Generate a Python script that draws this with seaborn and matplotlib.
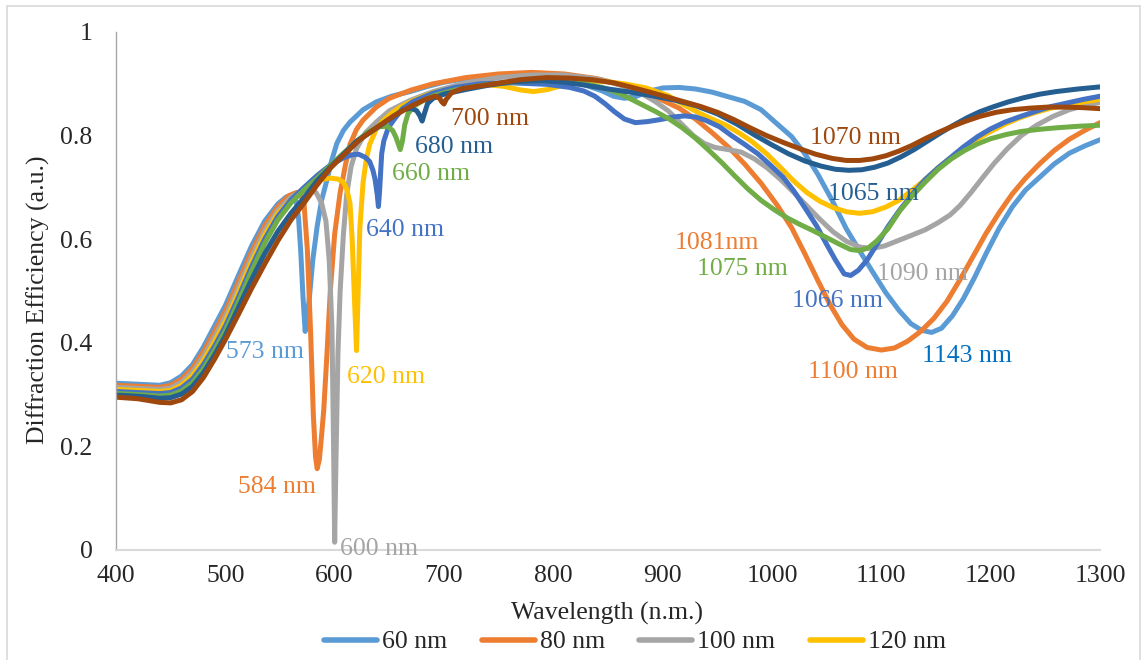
import matplotlib
matplotlib.use("Agg")
import matplotlib.pyplot as plt
from matplotlib.lines import Line2D
import pandas as pd
import seaborn as sns

# ---- spectra: wavelength (nm) and diffraction efficiency for each grating depth ----
wl_60 = [400, 420, 440, 450, 460, 470, 480, 490, 500, 512, 524, 536, 548, 556, 562, 565,
         567, 569, 571, 573, 575, 577, 580, 584, 588, 593, 597, 602, 608, 614, 626, 638,
         652, 669, 685, 700, 720, 740, 760, 780, 800, 815, 830, 845, 855, 865, 875, 888,
         900, 915, 930, 945, 960, 975, 990, 1005, 1018, 1030, 1042, 1055, 1068, 1080, 1092,
         1104, 1116, 1127, 1137, 1146, 1155, 1165, 1175, 1185, 1196, 1208, 1220, 1232,
         1245, 1258, 1272, 1286, 1300]
de_60 = [0.322, 0.320, 0.318, 0.323, 0.336, 0.358, 0.392, 0.432, 0.472, 0.530, 0.587, 0.635,
         0.668, 0.682, 0.684, 0.672, 0.640, 0.575, 0.490, 0.422, 0.450, 0.490, 0.560, 0.625,
         0.675, 0.715, 0.750, 0.785, 0.810, 0.826, 0.850, 0.865, 0.876, 0.885, 0.895, 0.903,
         0.910, 0.915, 0.918, 0.920, 0.918, 0.913, 0.897, 0.886, 0.876, 0.872, 0.875, 0.886,
         0.892, 0.893, 0.890, 0.884, 0.875, 0.866, 0.850, 0.822, 0.798, 0.765, 0.725, 0.675,
         0.620, 0.578, 0.537, 0.497, 0.463, 0.437, 0.424, 0.420, 0.428, 0.452, 0.485, 0.525,
         0.573, 0.622, 0.663, 0.695, 0.720, 0.745, 0.766, 0.780, 0.792]

wl_80 = [400, 420, 440, 450, 460, 470, 480, 490, 500, 512, 524, 536, 548, 558, 565, 569,
         572, 575, 578, 580.5, 582.5, 584, 586, 588, 590, 593, 596, 600, 605, 610, 614,
         620, 626, 638, 650, 670, 690, 720, 750, 780, 810, 840, 860, 880, 900, 915, 930,
         945, 960, 975, 990, 1005, 1018, 1030, 1042, 1053, 1064, 1075, 1087, 1100, 1112,
         1124, 1136, 1148, 1160, 1172, 1184, 1196, 1208, 1220, 1232, 1245, 1258, 1272,
         1286, 1300]
de_80 = [0.318, 0.316, 0.314, 0.318, 0.330, 0.351, 0.383, 0.421, 0.461, 0.518, 0.576, 0.626,
         0.663, 0.684, 0.690, 0.686, 0.668, 0.580, 0.420, 0.260, 0.180, 0.157, 0.175, 0.220,
         0.270, 0.380, 0.500, 0.610, 0.690, 0.745, 0.783, 0.812, 0.830, 0.855, 0.872, 0.888,
         0.900, 0.912, 0.919, 0.922, 0.919, 0.910, 0.899, 0.885, 0.868, 0.853, 0.832, 0.806,
         0.778, 0.745, 0.708, 0.665, 0.622, 0.572, 0.520, 0.474, 0.435, 0.407, 0.391, 0.386,
         0.390, 0.403, 0.422, 0.447, 0.480, 0.522, 0.567, 0.612, 0.652, 0.688, 0.718, 0.746,
         0.771, 0.793, 0.810, 0.825]

wl_100 = [400, 420, 440, 450, 460, 470, 480, 490, 500, 512, 524, 536, 548, 560, 570, 577,
          583, 588, 592, 595, 597.5, 599, 600, 601, 603, 605, 608, 611, 615, 620, 628, 638,
          650, 669, 690, 720, 750, 780, 810, 830, 845, 865, 880, 893, 905, 917, 928, 938,
          948, 960, 972, 984, 996, 1008, 1020, 1032, 1044, 1056, 1068, 1080, 1091, 1103,
          1115, 1127, 1140, 1152, 1163, 1172, 1182, 1192, 1203, 1215, 1228, 1242, 1257,
          1272, 1286, 1300]
de_100 = [0.314, 0.312, 0.310, 0.313, 0.324, 0.344, 0.374, 0.411, 0.451, 0.507, 0.566, 0.617,
          0.656, 0.681, 0.694, 0.698, 0.690, 0.670, 0.635, 0.560, 0.430, 0.200, 0.015, 0.150,
          0.380, 0.500, 0.610, 0.687, 0.740, 0.775, 0.805, 0.826, 0.848, 0.868, 0.885, 0.902,
          0.912, 0.917, 0.917, 0.912, 0.907, 0.895, 0.882, 0.866, 0.848, 0.823, 0.800, 0.785,
          0.777, 0.773, 0.768, 0.755, 0.737, 0.715, 0.690, 0.664, 0.638, 0.614, 0.596, 0.585,
          0.582, 0.587, 0.597, 0.607, 0.618, 0.632, 0.647, 0.665, 0.690, 0.717, 0.746, 0.774,
          0.800, 0.820, 0.837, 0.850, 0.858, 0.864]

wl_120 = [400, 420, 440, 450, 460, 470, 480, 490, 500, 512, 524, 536, 548, 560, 571, 580,
          588, 596, 603, 608, 611, 614, 616, 618, 620, 621.5, 623, 626, 629, 632, 638, 644,
          652, 660, 672, 690, 710, 735, 755, 770, 782, 795, 810, 825, 845, 865, 885, 905,
          919, 932, 945, 958, 970, 982, 995, 1008, 1020, 1032, 1044, 1056, 1068, 1080, 1092,
          1104, 1116, 1128, 1140, 1152, 1164, 1176, 1188, 1200, 1213, 1226, 1240, 1255,
          1270, 1285, 1300]
de_120 = [0.310, 0.308, 0.306, 0.308, 0.318, 0.337, 0.366, 0.402, 0.441, 0.497, 0.556, 0.608,
          0.650, 0.676, 0.695, 0.708, 0.715, 0.718, 0.716, 0.710, 0.697, 0.670, 0.600, 0.490,
          0.385, 0.500, 0.620, 0.710, 0.755, 0.783, 0.812, 0.828, 0.843, 0.855, 0.868, 0.883,
          0.892, 0.899, 0.895, 0.888, 0.885, 0.889, 0.898, 0.905, 0.905, 0.900, 0.892, 0.877,
          0.860, 0.845, 0.832, 0.820, 0.805, 0.788, 0.765, 0.738, 0.712, 0.690, 0.673, 0.661,
          0.653, 0.650, 0.653, 0.662, 0.675, 0.694, 0.715, 0.738, 0.758, 0.777, 0.794, 0.808,
          0.822, 0.834, 0.844, 0.853, 0.860, 0.865, 0.870]

wl_140 = [400, 420, 440, 450, 460, 470, 480, 490, 500, 512, 524, 536, 548, 560, 572, 584,
          596, 608, 616, 622, 628, 632, 635, 637, 639, 640, 641, 643, 645, 649, 654, 662,
          672, 690, 710, 733, 760, 794, 815, 828, 838, 847, 856, 865, 875, 886, 898, 910,
          920, 930, 940, 952, 963, 975, 987, 998, 1010, 1020, 1030, 1041, 1050, 1058, 1066,
          1072, 1079, 1087, 1096, 1106, 1117, 1128, 1140, 1152, 1163, 1175, 1188, 1200,
          1213, 1226, 1240, 1255, 1270, 1285, 1300]
de_140 = [0.306, 0.304, 0.302, 0.304, 0.313, 0.330, 0.358, 0.393, 0.432, 0.488, 0.547, 0.600,
          0.644, 0.676, 0.700, 0.723, 0.743, 0.757, 0.763, 0.764, 0.758, 0.750, 0.733, 0.715,
          0.685, 0.663, 0.690, 0.765, 0.790, 0.815, 0.830, 0.852, 0.866, 0.882, 0.893, 0.900,
          0.902, 0.899, 0.893, 0.886, 0.876, 0.862, 0.846, 0.832, 0.825, 0.827, 0.831, 0.836,
          0.838, 0.836, 0.829, 0.817, 0.800, 0.783, 0.765, 0.744, 0.720, 0.693, 0.661, 0.625,
          0.590, 0.560, 0.533, 0.530, 0.540, 0.560, 0.590, 0.624, 0.657, 0.686, 0.715, 0.738,
          0.757, 0.778, 0.798, 0.813, 0.826, 0.836, 0.846, 0.856, 0.863, 0.870, 0.876]

wl_160 = [400, 420, 440, 450, 460, 470, 480, 490, 500, 512, 524, 536, 548, 560, 572, 584,
          596, 608, 620, 630, 640, 648, 653, 656, 658, 660, 662, 664, 667, 672, 681, 692,
          710, 735, 760, 785, 805, 825, 845, 862, 878, 893, 906, 918, 930, 942, 954, 966,
          978, 990, 1002, 1014, 1026, 1038, 1050, 1062, 1072, 1080, 1088, 1096, 1106, 1117,
          1128, 1140, 1152, 1164, 1176, 1188, 1200, 1214, 1228, 1244, 1260, 1280, 1300]
de_160 = [0.302, 0.300, 0.297, 0.299, 0.307, 0.323, 0.350, 0.385, 0.423, 0.479, 0.538, 0.592,
          0.637, 0.670, 0.695, 0.718, 0.742, 0.766, 0.789, 0.806, 0.817, 0.818, 0.810, 0.797,
          0.785, 0.773, 0.790, 0.820, 0.842, 0.856, 0.868, 0.878, 0.888, 0.897, 0.903, 0.906,
          0.906, 0.902, 0.893, 0.880, 0.863, 0.847, 0.832, 0.815, 0.795, 0.772, 0.748, 0.722,
          0.697, 0.675, 0.657, 0.641, 0.628, 0.616, 0.603, 0.590, 0.580, 0.578, 0.583, 0.597,
          0.620, 0.655, 0.683, 0.710, 0.735, 0.755, 0.771, 0.784, 0.794, 0.802, 0.808, 0.812,
          0.815, 0.818, 0.820]

wl_180 = [400, 420, 440, 450, 460, 470, 480, 490, 500, 512, 524, 536, 548, 560, 572, 584,
          596, 608, 620, 638, 653, 663, 670, 675, 678, 680, 682, 685, 690, 700, 720, 740,
          763, 790, 810, 830, 850, 870, 890, 910, 930, 950, 968, 985, 1000, 1015, 1030, 1045,
          1058, 1070, 1082, 1094, 1106, 1118, 1130, 1142, 1154, 1166, 1178, 1190, 1203, 1216,
          1230, 1245, 1260, 1280, 1300]
de_180 = [0.299, 0.297, 0.293, 0.294, 0.301, 0.316, 0.342, 0.376, 0.414, 0.468, 0.522, 0.572,
          0.615, 0.650, 0.680, 0.713, 0.739, 0.764, 0.789, 0.814, 0.836, 0.850, 0.853, 0.848,
          0.838, 0.828, 0.842, 0.862, 0.872, 0.880, 0.889, 0.897, 0.904, 0.906, 0.903, 0.897,
          0.890, 0.884, 0.877, 0.869, 0.858, 0.842, 0.822, 0.800, 0.782, 0.765, 0.751, 0.741,
          0.735, 0.733, 0.734, 0.739, 0.747, 0.759, 0.773, 0.789, 0.805, 0.820, 0.834, 0.846,
          0.856, 0.865, 0.873, 0.880, 0.885, 0.890, 0.894]

wl_200 = [400, 420, 440, 450, 460, 470, 480, 490, 500, 512, 524, 536, 548, 560, 572, 584,
          596, 608, 623, 638, 654, 670, 684, 692, 696, 698, 700, 702, 707, 717, 740, 770,
          794, 815, 835, 855, 872, 888, 905, 920, 935, 950, 965, 980, 995, 1010, 1025, 1040,
          1055, 1068, 1080, 1092, 1104, 1116, 1128, 1140, 1152, 1164, 1176, 1190, 1205,
          1220, 1236, 1252, 1268, 1284, 1300]
de_200 = [0.295, 0.292, 0.285, 0.284, 0.290, 0.306, 0.333, 0.368, 0.406, 0.455, 0.505, 0.552,
          0.597, 0.637, 0.670, 0.705, 0.737, 0.762, 0.792, 0.815, 0.838, 0.857, 0.871, 0.876,
          0.872, 0.865, 0.861, 0.870, 0.883, 0.891, 0.898, 0.908, 0.912, 0.911, 0.908, 0.902,
          0.893, 0.884, 0.874, 0.865, 0.856, 0.845, 0.831, 0.815, 0.800, 0.787, 0.775, 0.764,
          0.756, 0.752, 0.752, 0.755, 0.761, 0.770, 0.781, 0.794, 0.806, 0.817, 0.827, 0.837,
          0.845, 0.850, 0.853, 0.855, 0.855, 0.854, 0.852]

depths = ["60 nm", "80 nm", "100 nm", "120 nm", "140 nm", "160 nm", "180 nm", "200 nm"]
colors = ["#5B9BD5", "#ED7D31", "#A5A5A5", "#FFC000", "#4472C4", "#70AD47", "#255E91", "#9E480E"]
series = [(wl_60, de_60), (wl_80, de_80), (wl_100, de_100), (wl_120, de_120),
          (wl_140, de_140), (wl_160, de_160), (wl_180, de_180), (wl_200, de_200)]

# resonance annotations: text, colour, anchor (wavelength, efficiency) of text baseline-left
notes_text = ["573 nm", "584 nm", "600 nm", "620 nm", "640 nm", "660 nm", "680 nm", "700 nm",
              "1081nm", "1075 nm", "1066 nm", "1065 nm", "1070 nm", "1090 nm", "1100 nm", "1143 nm"]
notes_color = ["#5B9BD5", "#ED7D31", "#A5A5A5", "#FFC000", "#4472C4", "#70AD47", "#255E91", "#9E480E",
               "#ED7D31", "#70AD47", "#4472C4", "#255E91", "#9E480E", "#A5A5A5", "#ED7D31", "#0070C0"]
notes_x = [500.6, 511.6, 605.0, 611.0, 629.0, 652.5, 673.5, 706.5,
           911.4, 931.6, 1018.5, 1051.4, 1035.0, 1096.0, 1033.0, 1137.4]
notes_y = [0.371, 0.110, -0.010, 0.323, 0.607, 0.715, 0.767, 0.821,
           0.582, 0.531, 0.470, 0.676, 0.783, 0.522, 0.332, 0.363]

x_ticks = [400, 500, 600, 700, 800, 900, 1000, 1100, 1200, 1300]
y_ticks = [0, 0.2, 0.4, 0.6, 0.8, 1.0]
y_tick_labels = ["0", "0.2", "0.4", "0.6", "0.8", "1"]

frames = [pd.DataFrame({"Wavelength": w, "Efficiency": e, "Depth": d})
          for (w, e), d in zip(series, depths)]
df = pd.concat(frames, ignore_index=True)

sns.set_style("white")
plt.rcParams["font.family"] = ["Liberation Serif", "DejaVu Serif"]
FS = 18.5

fig = plt.figure(figsize=(11.42, 6.60), dpi=100)
ax = fig.add_axes([0.10158, 0.16667, 0.86164, 0.78485])

sns.lineplot(data=df, x="Wavelength", y="Efficiency", hue="Depth", hue_order=depths,
             palette=colors, estimator=None, sort=False, linewidth=3.6, ax=ax, legend=False)
for ln in ax.get_lines():
    ln.set_solid_capstyle("round")
    ln.set_solid_joinstyle("round")

ax.set_xlim(400, 1300)
ax.set_ylim(0, 1)
ax.set_xticks(x_ticks)
ax.set_xticklabels([str(t) for t in x_ticks], fontsize=FS)
ax.set_yticks(y_ticks)
ax.set_yticklabels(y_tick_labels, fontsize=FS)
ax.tick_params(axis="x", length=0, pad=11)
ax.tick_params(axis="y", length=0, pad=17)
ax.set_xlabel("")
ax.set_ylabel("")
ax.grid(False)
for side in ["top", "right"]:
    ax.spines[side].set_visible(False)
ax.spines["left"].set_color("#A6A6A6")
ax.spines["left"].set_linewidth(1.0)
ax.spines["bottom"].set_color("#D9D9D9")
ax.spines["bottom"].set_linewidth(1.5)

for t, c, x, y in zip(notes_text, notes_color, notes_x, notes_y):
    ax.text(x, y, t, color=c, fontsize=FS, ha="left", va="baseline", clip_on=False)

fig.text(38 / 1142, 1 - 300 / 660, "Diffraction Efficiency (a.u.)", rotation=90,
         ha="center", va="center", fontsize=FS)
fig.text(607 / 1142, 1 - 613 / 660, "Wavelength (n.m.)", ha="center", va="center", fontsize=FS)

handles = [Line2D([0], [0], color=c, lw=4.0, solid_capstyle="round") for c in colors[:4]]
fig.legend(handles, depths[:4], loc="center", bbox_to_anchor=(635 / 1142, 1 - 642 / 660),
           ncol=4, frameon=False, fontsize=FS, handlelength=2.05, handletextpad=0.2,
           columnspacing=1.35, borderaxespad=0, borderpad=0)

# chart-area border
border = dict(color="#D9D9D9", lw=1.2)
fig.add_artist(Line2D([7 / 1142, 7 / 1142], [0, 1 - 6 / 660], **border))
fig.add_artist(Line2D([7 / 1142, 1140 / 1142], [1 - 6 / 660, 1 - 6 / 660], **border))
fig.add_artist(Line2D([1140 / 1142, 1140 / 1142], [0, 1 - 6 / 660], **border))

fig.savefig("out.png", dpi=100, facecolor="white")
